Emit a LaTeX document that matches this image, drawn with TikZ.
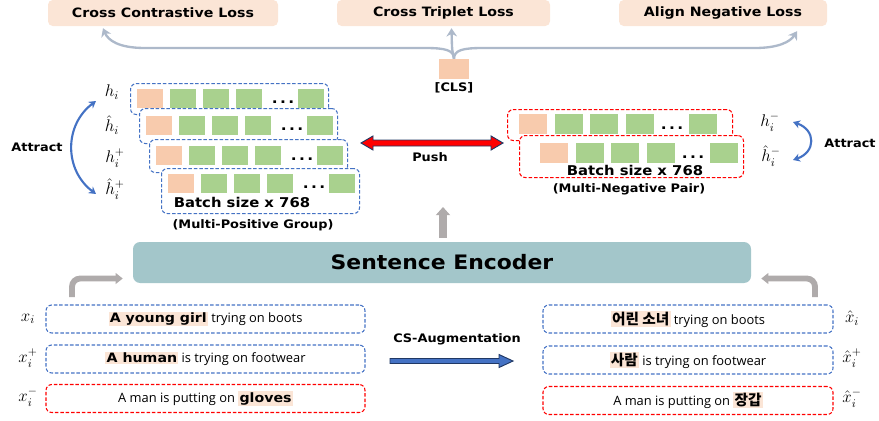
\documentclass[tikz,border=0pt]{standalone}
\usepackage{amsmath}
\usepackage{fontspec}
\setmainfont{DejaVu Sans}[FakeStretch=1.1]
\newfontfamily\sentfont{Open Sans}
\newfontfamily\krfont{Noto Sans CJK KR}
\usetikzlibrary{arrows.meta,calc,positioning}
\definecolor{peach}{HTML}{FBE5D6}
\definecolor{clsorange}{HTML}{F8CBAD}
\definecolor{embgreen}{HTML}{A9D18E}
\definecolor{posblue}{HTML}{4472C4}
\definecolor{negred}{HTML}{FF0000}
\definecolor{encteal}{HTML}{A3C6CA}
\definecolor{lossline}{HTML}{ADB9CA}
\definecolor{flowgray}{HTML}{AFABAB}
\definecolor{navyedge}{HTML}{203864}
\newcommand{\pxu}{0.03cm}
\newcommand{\hlw}[1]{{\setlength{\fboxsep}{1pt}\colorbox{peach}{\rmfamily\bfseries #1}}}
\newcommand{\hlk}[1]{{\setlength{\fboxsep}{1pt}\colorbox{peach}{\krfont\bfseries\fontsize{12.5}{14}\selectfont #1}}}
\tikzstyle{lossarrow} = [line width=2pt,draw=lossline,-{Stealth[length=7pt,width=9pt]}]
\tikzstyle{flowarrow} = [line width=5pt,draw=flowgray,-{Triangle[length=6pt,width=9pt]}]
\tikzset{lossbox/.style={rectangle,rounded corners=4pt,fill=peach,minimum height=26*\pxu,inner sep=0pt,font=\fontsize{11}{13}\selectfont\bfseries},
  posgroup/.style={draw=posblue,dash pattern=on 3pt off 1.6pt,line width=0.9pt,rounded corners=5pt,fill=white,anchor=north west,inner sep=0pt},
  neggroup/.style={posgroup,draw=negred},
  sentbox/.style={draw=posblue,dash pattern=on 3pt off 1.6pt,line width=0.9pt,rounded corners=5pt,minimum height=28*\pxu,inner sep=0pt,font=\sentfont\fontsize{11}{13}\selectfont},
  negsent/.style={sentbox,draw=negred},
  encbox/.style={rounded corners=6pt,fill=encteal,font=\fontsize{17}{20}\selectfont\bfseries},
  smalltag/.style={inner sep=0pt,font=\fontsize{10}{12}\selectfont\bfseries},
  batchtext/.style={inner sep=0pt,font=\fontsize{11.5}{14}\selectfont\bfseries},
  vname/.style={inner sep=0pt,font=\fontsize{14}{16}\selectfont},
  ellip/.style={inner sep=0pt,font=\fontsize{12}{12}\selectfont\bfseries},
  attractarrow/.style={line width=1.8pt,draw=posblue,{Stealth[length=6pt,width=7pt]}-{Stealth[length=6pt,width=7pt]}},
  pusharrow/.style={fill=red,draw=navyedge,line width=0.8pt},
  augarrow/.style={fill=posblue,draw=navyedge,line width=0.8pt}}

\begin{document}
\begin{tikzpicture}[x=0.03cm,y=-0.03cm]
    \useasboundingbox (0,0) rectangle (879,420);

    % losses and the [CLS] token
    \node [lossbox, minimum width=230*\pxu] (ccloss) at (163,13) {Cross Contrastive Loss};
    \node [lossbox, minimum width=213*\pxu] (ctloss) at (443.5,13) {Cross Triplet Loss};
    \node [lossbox, minimum width=208*\pxu] (anloss) at (723,13) {Align Negative Loss};
    \node [fill=clsorange, minimum width=30*\pxu, minimum height=20*\pxu, inner sep=0pt] (cls) at (454,69) {};
    \node [smalltag, below=3pt of cls] (clslabel) {[CLS]};

    \draw [lossarrow] (cls.north) .. controls (454,50) and (445,48) .. (425,48) -- (145,48)
        .. controls (118,48) and (108,40) .. ($(ccloss.south)+(-60,2)$);
    \draw [lossarrow] (cls.north) .. controls (452,50) .. ($(ctloss.south)+(8,2)$);
    \draw [lossarrow] (cls.north) .. controls (454,50) and (463,48) .. (483,48) -- (755,48)
        .. controls (778,48) and (790,42) .. ($(anloss.south)+(74,5)$);

    % multi-positive group
    \foreach \k/\bx/\by/\bh in {1/130/83/31, 2/139/108/35, 3/149/139/33, 4/161/168/45}
        \node [posgroup, minimum width=198*\pxu, minimum height=\bh*\pxu] (pos\k) at (\bx,\by) {};
    \foreach \k/\sx/\sy in {1/137/89, 2/146/116, 3/156/146, 4/168/174}
        {
        \fill [clsorange] (\sx,\sy) rectangle ++(26,19);
        \foreach \j in {1,2,3}
            \fill [embgreen] (\sx+33*\j,\sy) rectangle ++(26,19);
        \node [ellip] (pdots\k) at (\sx+146,\sy+13) {.\,.\,.};
        \fill [embgreen] (\sx+161,\sy) rectangle ++(26,19);
        }
    \node [batchtext] (posbatch) at (242,202) {Batch size x 768};
    \node [smalltag] (posname) at (253,225) {(Multi-Positive Group)};

    \node [vname] (hA) at (112,92) {$h_i$};
    \node [vname] (hB) at (112,125) {$\hat{h}_i$};
    \node [vname] (hC) at (115,158) {$h_i^+$};
    \node [vname] (hD) at (115,189) {$\hat{h}_i^+$};
    \coordinate (posattrA) at (96,101);
    \coordinate (posattrB) at (96,194);
    \draw [attractarrow] (posattrA) .. controls (64,125) and (64,170) .. (posattrB);
    \node [smalltag] (posattract) at (37,147) {Attract};

    % multi-negative pair
    \node [neggroup, minimum width=225*\pxu, minimum height=31*\pxu] (neg1) at (507,109) {};
    \node [neggroup, minimum width=224*\pxu, minimum height=42*\pxu] (neg2) at (519,135) {};
    \foreach \k/\sx/\sy in {1/519/114, 2/540/143}
        {
        \fill [clsorange] (\sx,\sy) rectangle ++(28,20);
        \foreach \j in {1,2,3}
            \fill [embgreen] (\sx+35.5*\j,\sy) rectangle ++(28,20);
        \node [ellip] (ndots\k) at (\sx+153,\sy+14) {.\,.\,.};
        \fill [embgreen] (\sx+170,\sy) rectangle ++(28,20);
        }
    \node [batchtext] (negbatch) at (635,170) {Batch size x 768};
    \node [smalltag] (negname) at (629,189) {(Multi-Negative Pair)};

    \node [vname] (hE) at (770,122) {$h_i^-$};
    \node [vname] (hF) at (771,156) {$\hat{h}_i^-$};
    \coordinate (negattrA) at (793,122);
    \coordinate (negattrB) at (793,160);
    \draw [attractarrow] (negattrA) .. controls (816,130) and (816,152) .. (negattrB);
    \node [smalltag] (negattract) at (850,143) {Attract};

    % push between the groups
    \coordinate (pushL) at (361,143);
    \draw [pusharrow] (pushL) -- ++(12,-7) -- ++(0,4) -- ++(118,0) -- ++(0,-4) -- ++(12,7)
        -- ++(-12,7) -- ++(0,-4) -- ++(-118,0) -- ++(0,4) -- cycle;
    \node [smalltag] (pushlabel) at (430,157) {Push};

    % encoder
    \node [encbox, minimum width=618*\pxu, minimum height=41*\pxu] (encoder) at (442,262.5) {Sentence Encoder};
    \coordinate (uptip) at (443,207);
    \draw [flowarrow, line width=7pt, -{Triangle[length=7pt,width=12pt]}] ($(encoder.north)+(1,-4)$) -- (uptip);
    \coordinate (leftfoot) at (72,297);
    \coordinate (rightfoot) at (815,297);
    \draw [flowarrow, rounded corners=7pt] (leftfoot) |- ($(encoder.west)+(-10,16)$);
    \draw [flowarrow, rounded corners=7pt] (rightfoot) |- ($(encoder.east)+(10,16)$);

    % sentences
    \node [sentbox, minimum width=319*\pxu] (srcA) at (205.5,319) {\hlw{A young girl} trying on boots};
    \node [sentbox, minimum width=319*\pxu] (srcB) at (205.5,359) {\hlw{A human} is trying on footwear};
    \node [negsent, minimum width=319*\pxu] (srcC) at (205.5,398.5) {A man is putting on \hlw{gloves}};
    \node [sentbox, minimum width=290*\pxu] (augA) at (688,319) {\hlk{어린 소녀} trying on boots};
    \node [sentbox, minimum width=290*\pxu] (augB) at (688,360) {\hlk{사람} is trying on footwear};
    \node [negsent, minimum width=290*\pxu] (augC) at (688,400.5) {A man is putting on \hlk{장갑}};

    \node [vname] (xA) at (28,319) {$x_i$};
    \node [vname] (xB) at (28,358) {$x_i^+$};
    \node [vname] (xC) at (28,397) {$x_i^-$};
    \node [vname] (xD) at (852,318) {$\hat{x}_i$};
    \node [vname] (xE) at (852,358) {$\hat{x}_i^+$};
    \node [vname] (xF) at (852,398) {$\hat{x}_i^-$};

    % augmentation
    \node [smalltag] (auglabel) at (457,339) {CS-Augmentation};
    \coordinate (augL) at (390,361);
    \draw [augarrow] (augL) -- ++(0,-2.5) -- ++(109,0) -- ++(0,-4) -- ++(14,6.5) -- ++(-14,6.5)
        -- ++(0,-4) -- ++(-109,0) -- cycle;
\end{tikzpicture}
\end{document}
